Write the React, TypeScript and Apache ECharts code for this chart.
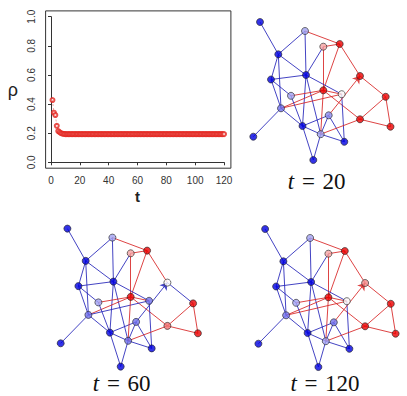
import React, { useEffect, useRef } from "react";
import * as echarts from "echarts";

// ---- top-left plot: rho vs t ----
const rhoValues = [
  0.428, 0.341, 0.325, 0.251, 0.215, 0.207, 0.2, 0.197, 0.195, 0.194,
  0.194, 0.194, 0.194, 0.194, 0.194, 0.194, 0.194, 0.194, 0.194, 0.194,
  0.194, 0.194, 0.194, 0.194, 0.194, 0.194, 0.194, 0.194, 0.194, 0.194,
  0.194, 0.194, 0.194, 0.194, 0.194, 0.194, 0.194, 0.194, 0.194, 0.194,
  0.194, 0.194, 0.194, 0.194, 0.194, 0.194, 0.194, 0.194, 0.194, 0.194,
  0.194, 0.194, 0.194, 0.194, 0.194, 0.194, 0.194, 0.194, 0.194, 0.194,
  0.194, 0.194, 0.194, 0.194, 0.194, 0.194, 0.194, 0.194, 0.194, 0.194,
  0.194, 0.194, 0.194, 0.194, 0.194, 0.194, 0.194, 0.194, 0.194, 0.194,
  0.194, 0.194, 0.194, 0.194, 0.194, 0.194, 0.194, 0.194, 0.194, 0.194,
  0.194, 0.194, 0.194, 0.194, 0.194, 0.194, 0.194, 0.194, 0.194, 0.194,
  0.194, 0.194, 0.194, 0.194, 0.194, 0.194, 0.194, 0.194, 0.194, 0.194,
  0.194, 0.194, 0.194, 0.194, 0.194, 0.194, 0.194, 0.194, 0.194, 0.194,
];
const xTickInterval = 20;
const yTickInterval = 0.2;

// ---- network: layout (same for all panels) ----
const nodeNames = ["A", "B", "C", "D", "E", "F", "G", "H", "I", "J", "K", "L", "M", "N", "O", "P", "Q", "R", "S", "T", "U"];
const nodeX = [10, 55, 73.3, 89.7, 28.3, 56, 21, 110, 73.3, 91.7, 41, 135.7, 31, 78.7, 110, 52.5, 140.5, 3.3, 70.7, 94.3, 63.3];
const nodeY = [2, 11, 26.7, 24, 34.3, 55, 59.5, 56, 70.3, 74.2, 75.8, 76.8, 88.3, 95.3, 99.3, 106, 106.7, 116.7, 114.2, 121.8, 140];

// edges: [source, target]; edge colour follows the source's opinion
const edges: [string, string][] = [
  ["A", "E"], ["B", "E"], ["B", "F"], ["D", "B"], ["D", "C"], ["F", "C"], ["I", "C"],
  ["D", "I"], ["D", "H"], ["H", "L"], ["L", "Q"], ["Q", "O"], ["L", "O"], ["I", "O"],
  ["E", "F"], ["E", "G"], ["E", "M"], ["G", "F"], ["G", "K"], ["G", "M"], ["F", "J"],
  ["F", "P"], ["F", "S"], ["I", "K"], ["I", "M"], ["J", "M"], ["I", "J"], ["M", "R"],
  ["M", "P"], ["K", "P"], ["P", "U"], ["S", "U"], ["P", "S"], ["P", "N"], ["T", "J"],
  ["N", "T"], ["S", "T"], ["S", "N"], ["O", "S"], ["I", "S"],
];
const arrowEdges: [string, string][] = [["H", "N"]];

// opinions per panel: -1 = blue, 0 = white, +1 = red
const panelTimes = [20, 60, 120];
const opinionsT20 = [-1, -0.35, 0.35, 1, -1, -1, -1, 1, 1, 0.02, -0.35, 1, -0.55, -0.45, 1, -1, 1, -1, -0.35, -1, -1];
const opinionsT60 = [-1, -0.35, 0.35, 1, -1, -1, -1, 0, 1, -0.55, -0.35, 1, -0.55, -0.55, 0.55, -1, 1, -1, -0.55, -1, -1];
const opinionsT120 = [-1, -0.35, 0.35, 1, -1, -1, -1, 0.45, 1, 0.02, -0.35, 1, -0.55, -0.55, 1, -1, 1, -1, -0.35, -1, -1];

const panelGrids = [
  { left: 250, top: 20, titleX: 316.7, titleY: 181 },
  { left: 57.4, top: 226.6, titleX: 121.7, titleY: 383 },
  { left: 255.1, top: 227, titleX: 325, titleY: 383 },
];

function opinionColor(v: number): string {
  const a = Math.min(1, Math.abs(v));
  if (v < 0) {
    const c = Math.round(250 * (1 - a));
    return `rgb(${c},${c},${Math.round(250 - 25 * a)})`;
  }
  const c = Math.round(250 * (1 - a));
  return `rgb(${Math.round(250 - 15 * a)},${c},${c})`;
}

const BLUE_EDGE = "rgba(35,35,185,0.85)";
const RED_EDGE = "rgba(215,35,35,0.85)";

export default function App() {
  const ref = useRef<HTMLDivElement>(null);
  useEffect(() => {
    if (!ref.current) return;
    const chart = echarts.init(ref.current, null, { renderer: "svg" });
    const idx = (n: string) => nodeNames.indexOf(n);
    const opinionSets = [opinionsT20, opinionsT60, opinionsT120];

    const grids: any[] = [
      { left: 45.6, top: 10.9, width: 185.3, height: 157.3, show: true, borderColor: "#333", borderWidth: 1, backgroundColor: "transparent" },
      { left: 51, top: 16.7, width: 173, height: 145.6 },
    ];
    const xAxes: any[] = [
      { gridIndex: 0, type: "value", min: -3.76, max: 124.76, show: false },
      {
        gridIndex: 1, type: "value", min: 0, max: 120, interval: xTickInterval, offset: 7.7,
        axisLine: { show: true, lineStyle: { color: "#333", width: 1 } },
        axisTick: { show: true, length: 3, lineStyle: { color: "#333" } },
        splitLine: { show: false },
        axisLabel: { fontSize: 10, color: "#333", margin: 5, fontFamily: "Liberation Sans" },
        name: "t", nameLocation: "middle", nameGap: 19,
        nameTextStyle: { fontSize: 15, color: "#222", fontFamily: "Liberation Sans", fontWeight: "bold" },
      },
    ];
    const yAxes: any[] = [
      { gridIndex: 0, type: "value", min: -0.04, max: 1.04, show: false },
      {
        gridIndex: 1, type: "value", min: 0, max: 1, interval: yTickInterval, offset: 11,
        axisLine: { show: true, lineStyle: { color: "#333", width: 1 } },
        axisTick: { show: true, length: 3, lineStyle: { color: "#333" } },
        splitLine: { show: false },
        axisLabel: { fontSize: 10, color: "#333", margin: 4, rotate: 90, fontFamily: "Liberation Sans", formatter: (v: number) => v.toFixed(1) },
        name: "ρ", nameLocation: "middle", nameRotate: 0, nameGap: 22,
        nameTextStyle: { fontSize: 18, color: "#222", fontFamily: "Liberation Sans" },
      },
    ];

    const series: any[] = [
      {
        type: "line", xAxisIndex: 0, yAxisIndex: 0,
        data: rhoValues.map((r, i) => [i + 1, r]),
        showSymbol: false, symbol: "none",
        lineStyle: { color: "rgba(225,40,40,0.6)", width: 0.7, type: [2, 2] },
        silent: true,
      },
      {
        type: "scatter", xAxisIndex: 0, yAxisIndex: 0,
        data: rhoValues.map((r, i) => [i + 1, r]),
        symbol: "emptyCircle", symbolSize: 4,
        itemStyle: { color: "#e3261f", borderColor: "#e3261f", borderWidth: 0.8 },
        silent: true,
      },
    ];

    panelGrids.forEach((pg, p) => {
      const gi = p + 2;
      grids.push({ left: pg.left, top: pg.top, width: 150, height: 150 });
      xAxes.push({ gridIndex: gi, type: "value", min: 0, max: 150, show: false });
      yAxes.push({ gridIndex: gi, type: "value", min: 0, max: 150, inverse: true, show: false });
      const op = opinionSets[p];
      const edgeData = (list: [string, string][]) =>
        list.map(([s, t]) => {
          const a = idx(s), b = idx(t);
          return {
            coords: [[nodeX[a], nodeY[a]], [nodeX[b], nodeY[b]]],
            lineStyle: { color: op[a] > 0 ? RED_EDGE : BLUE_EDGE },
          };
        });
      series.push({
        type: "lines", coordinateSystem: "cartesian2d", xAxisIndex: gi, yAxisIndex: gi,
        data: edgeData(edges), lineStyle: { width: 1, opacity: 1 }, symbol: "none", silent: true, z: 2,
      });
      series.push({
        type: "lines", coordinateSystem: "cartesian2d", xAxisIndex: gi, yAxisIndex: gi,
        data: edgeData(arrowEdges), lineStyle: { width: 1, opacity: 1 },
        symbol: ["arrow", "none"], symbolSize: 7, silent: true, z: 2,
      });
      series.push({
        type: "scatter", xAxisIndex: gi, yAxisIndex: gi,
        data: nodeNames.map((_, i) => ({
          value: [nodeX[i], nodeY[i]],
          itemStyle: { color: opinionColor(op[i]) },
        })),
        symbol: "circle", symbolSize: 7,
        itemStyle: { borderColor: "#222", borderWidth: 0.8 },
        silent: true, z: 3,
      });
    });

    const graphic = panelGrids.map((pg, p) => ({
      type: "text",
      x: pg.titleX,
      y: pg.titleY,
      style: {
        text: `{i|t}\u2004=\u2004${panelTimes[p]}`,
        font: '23px "Liberation Serif"',
        fill: "#111",
        align: "center",
        verticalAlign: "middle",
        rich: { i: { fontStyle: "italic", fontSize: 23, fontFamily: "Liberation Serif", fill: "#111" } },
      },
    }));

    chart.setOption({
      animation: false,
      backgroundColor: "#fff",
      grid: grids,
      xAxis: xAxes,
      yAxis: yAxes,
      series,
      graphic,
    });
    return () => chart.dispose();
  }, []);
  return <div ref={ref} style={{ position: "fixed", left: 0, top: 0, width: 407, height: 396 }} />;
}
